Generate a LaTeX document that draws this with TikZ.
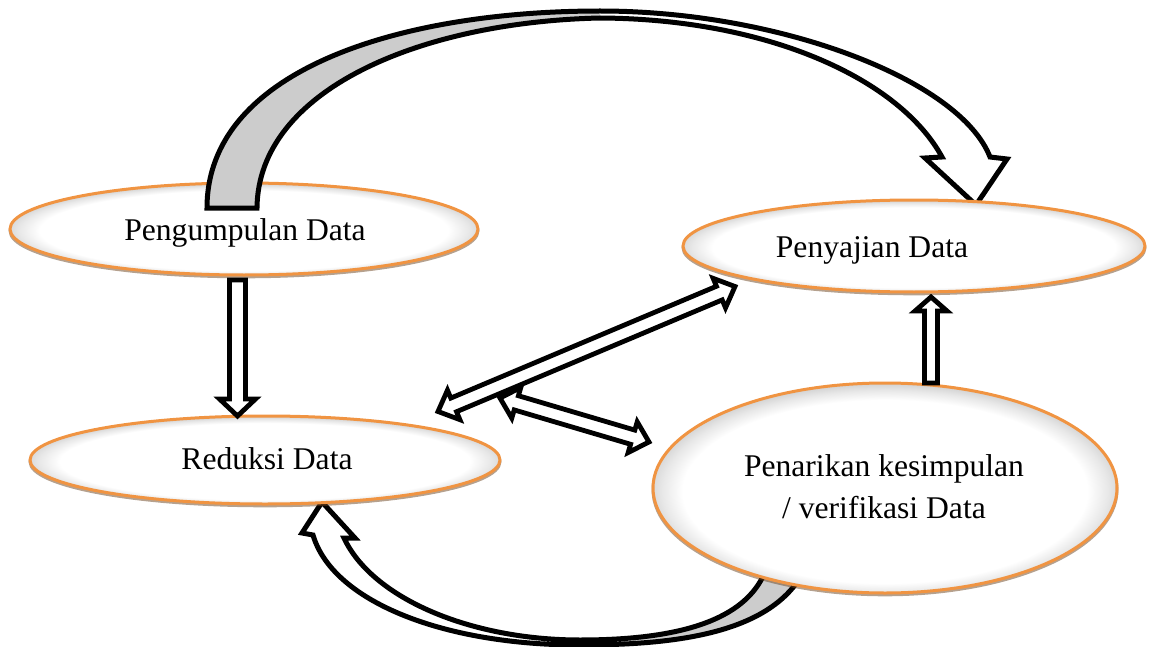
\documentclass[tikz,border=0pt]{standalone}
\usepackage{fontspec}
\setmainfont{Liberation Serif}
\usetikzlibrary{shapes.geometric,calc}
\definecolor{orng}{RGB}{240,148,66}
\definecolor{ribgray}{RGB}{204,204,204}
\pgfdeclareradialshading{bevel}{\pgfpoint{0bp}{-1.5bp}}{color(0bp)=(white); color(21.8bp)=(white); color(24bp)=(black!9); color(26.5bp)=(black!22); color(50bp)=(black!22)}
\tikzset{
  ell/.style={ellipse, draw=orng, line width=1.5pt, shading=bevel, inner sep=0pt,
    preaction={draw=orng!45!black, line width=1.5pt, opacity=0.5, transform canvas={yshift=-0.9pt}}},
  lbl/.style={font=\fontsize{15.8}{21}\selectfont, align=center, inner sep=0pt},
  ribbon/.style={draw=black, line width=2.5pt, line join=miter},
  hollowarr/.style={draw=black, fill=white, line width=2.4pt, line join=miter},
}
\newcommand{\sgarrow}[5]{%
  \coordinate (sh) at ($(#2)!#5!(#1)$);
  \draw[hollowarr] ($(#1)!#3!90:(#2)$) -- ($(sh)!#3!90:(#2)$) -- ($(sh)!#4!90:(#2)$) -- (#2)
     -- ($(sh)!#4!-90:(#2)$) -- ($(sh)!#3!-90:(#2)$) -- ($(#1)!#3!-90:(#2)$) -- cycle;}
\newcommand{\dbarrow}[5]{%
  \coordinate (da) at ($(#1)!#5!(#2)$);
  \coordinate (db) at ($(#2)!#5!(#1)$);
  \draw[hollowarr] (#1) -- ($(da)!#4!90:(#2)$) -- ($(da)!#3!90:(#2)$) -- ($(db)!#3!90:(#2)$)
     -- ($(db)!#4!90:(#2)$) -- (#2) -- ($(db)!#4!-90:(#2)$) -- ($(db)!#3!-90:(#2)$)
     -- ($(da)!#3!-90:(#2)$) -- ($(da)!#4!-90:(#2)$) -- cycle;}
\begin{document}
\begin{tikzpicture}[x=0.5pt,y=-0.5pt]
\useasboundingbox (0,0) rectangle (1157,647);
% bottom curved arrow (from Penarikan to Reduksi)
\fill[white] (800,578) .. controls (765,632) and (680,645) .. (580,645)
   .. controls (440,645) and (332,600) .. (313,535)
   -- (302,533) -- (322,502) -- (355,538) -- (344,538)
   .. controls (372,598) and (470,640) .. (580,640)
   .. controls (680,640) and (745,620) .. (765,572) -- cycle;
\fill[ribgray] (800,578) .. controls (765,632) and (680,645) .. (580,645)
   -- (580,640) .. controls (680,640) and (745,620) .. (765,572) -- cycle;
\draw[ribbon] (800,578) .. controls (765,632) and (680,645) .. (580,645)
   .. controls (440,645) and (332,600) .. (313,535)
   -- (302,533) -- (322,502) -- (355,538) -- (344,538)
   .. controls (372,598) and (470,640) .. (580,640)
   .. controls (680,640) and (745,620) .. (765,572) -- cycle;
% ellipses
\node[ell, minimum width=235pt, minimum height=44pt] (e3) at (265,460) {};
\node[ell, minimum width=232pt, minimum height=105pt] (e4) at (885,488) {};
\node[ell, minimum width=234pt, minimum height=46pt] (e1) at (244,229) {};
% top curved arrow (from Pengumpulan to Penyajian)
\fill[white] (207,208) .. controls (207,70) and (400,11) .. (600,11)
   .. controls (780,11) and (960,80) .. (990,157)
   -- (1007,159) -- (976,205) -- (925,158) -- (942,157)
   .. controls (900,80) and (770,19) .. (600,18)
   .. controls (420,22) and (258,90) .. (257,208) -- cycle;
\fill[ribgray] (207,208) .. controls (207,70) and (400,11) .. (600,11)
   -- (600,18) .. controls (420,22) and (258,90) .. (257,208) -- cycle;
\draw[ribbon] (207,208) .. controls (207,70) and (400,11) .. (600,11)
   .. controls (780,11) and (960,80) .. (990,157)
   -- (1007,159) -- (976,205) -- (925,158) -- (942,157)
   .. controls (900,80) and (770,19) .. (600,18)
   .. controls (420,22) and (258,90) .. (257,208) -- cycle;
\node[ell, minimum width=231pt, minimum height=46pt] (e2) at (914,246) {};
% labels
\node[lbl, anchor=base] (t1) at (245,240) {Pengumpulan Data};
\node[lbl, anchor=base] (t2) at (872,257) {Penyajian Data};
\node[lbl, anchor=base] (t3) at (267,469) {Reduksi Data};
\node[lbl] (t4) at (884,487) {Penarikan kesimpulan\\/ verifikasi Data};
% straight arrows
\coordinate (c1) at (237.5,280);
\coordinate (c2) at (237.5,416);
\sgarrow{c1}{c2}{4pt}{9pt}{8.5pt}
\coordinate (d1) at (931,383);
\coordinate (d2) at (931,297);
\sgarrow{d1}{d2}{3.25pt}{8pt}{7pt}
\coordinate (f1) at (500,398);
\coordinate (f2) at (649,442);
\dbarrow{f1}{f2}{3.7pt}{8pt}{8.5pt}
\coordinate (g1) at (438,411.5);
\coordinate (g2) at (735,286.5);
\dbarrow{g1}{g2}{3.7pt}{8pt}{8.5pt}
\end{tikzpicture}
\end{document}
